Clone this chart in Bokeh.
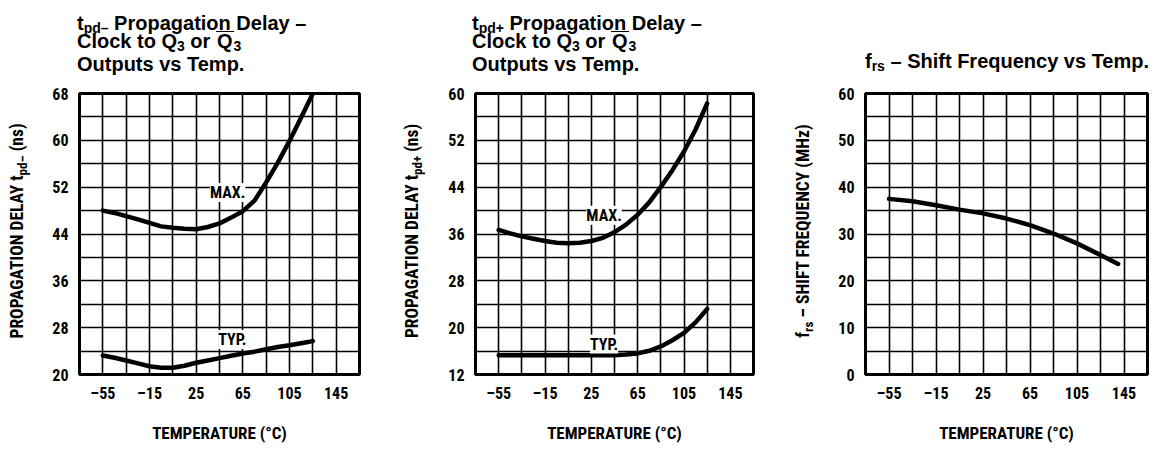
from bokeh.plotting import figure
from bokeh.models import Range1d, FixedTicker, Label, Div
from bokeh.layouts import row, column
from bokeh.embed import file_html
from bokeh.resources import INLINE

# ---------------- data ----------------
temp_ab = [-55, -45, -35, -25, -15, -5, 5, 15, 25, 35, 45, 55, 65, 75, 85, 95, 105, 115, 125]
tpd_minus_max = [48.0, 47.6, 47.05, 46.5, 45.9, 45.3, 45.05, 44.9, 44.8, 45.2, 45.8, 46.8, 47.9,
                 49.7, 52.8, 56.2, 59.9, 63.9, 68.0]
tpd_minus_typ = [23.25, 22.85, 22.4, 21.9, 21.4, 21.15, 21.15, 21.5, 22.0, 22.4, 22.8, 23.2, 23.6,
                 23.9, 24.3, 24.7, 25.0, 25.35, 25.7]
tpd_plus_max = [36.7, 36.1, 35.6, 35.2, 34.8, 34.5, 34.4, 34.5, 34.8, 35.35, 36.3, 37.6, 39.3,
                41.4, 44.05, 46.9, 50.1, 53.85, 58.3]
tpd_plus_typ = [15.3, 15.3, 15.3, 15.3, 15.3, 15.3, 15.3, 15.3, 15.3, 15.3, 15.3, 15.4, 15.6,
                16.05, 16.8, 17.85, 19.1, 20.9, 23.2]
temp_c = [-55, -35, -15, 5, 25, 45, 65, 85, 105, 125, 140]
shift_freq = [37.5, 37.0, 36.15, 35.2, 34.4, 33.3, 31.9, 30.1, 28.0, 25.5, 23.6]

x_ticks = [-55, -15, 25, 65, 105, 145]
x_tick_text = {-55: "\u201355", -15: "\u201315", 25: "25", 65: "65", 105: "105", 145: "145"}
x_grid = [-75, -55, -35, -15, 5, 25, 45, 65, 85, 105, 125, 145, 165]
y_ticks_a = [20, 28, 36, 44, 52, 60, 68]
y_grid_a = [20, 24, 28, 32, 36, 40, 44, 48, 52, 56, 60, 64, 68]
y_ticks_b = [12, 20, 28, 36, 44, 52, 60]
y_grid_b = [12, 16, 20, 24, 28, 32, 36, 40, 44, 48, 52, 56, 60]
y_ticks_c = [0, 10, 20, 30, 40, 50, 60]
y_grid_c = [0, 5, 10, 15, 20, 25, 30, 35, 40, 45, 50, 55, 60]

x_title = "TEMPERATURE (\u00b0C)"

COND = "Roboto Condensed"
TITLE_H = 78
FIG_H = 361


def sub(t, size=14, drop=3):
    return f'<span style="font-size:{size}px;vertical-align:-{drop}px">{t}</span>'


def title_div(width, left, lines):
    parts = "".join(
        f'<div style="position:absolute;left:{left}px;top:{top}px;white-space:nowrap">{h}</div>'
        for top, h in lines)
    html = (f'<div style="position:relative;width:{width}px;height:{TITLE_H}px;'
            f"font-family:'Liberation Sans',Arial,sans-serif;font-weight:bold;font-size:20px;"
            f'line-height:20px;color:#000">{parts}</div>')
    return Div(text=html, width=width, height=TITLE_H, margin=0, styles={"overflow": "visible"})


def ylab_div(width, cx, cy, inner):
    html = (f'<div style="position:relative;width:{width}px;height:{FIG_H}px">'
            f'<div style="position:absolute;left:{cx}px;top:{cy}px;'
            f'transform:translate(-50%,-50%) rotate(-90deg);white-space:nowrap;'
            f"font-family:'{COND}',sans-serif;font-weight:bold;font-size:17.5px;line-height:17px;"
            f'color:#000">{inner}</div></div>')
    return Div(text=html, width=width, height=FIG_H, margin=0, styles={"overflow": "visible"})


def make_fig(fw, bl, br, yr, yt, yg):
    p = figure(frame_width=fw, frame_height=281, min_border_left=bl, min_border_right=br,
               min_border_top=7, min_border_bottom=73,
               x_range=Range1d(-75, 165), y_range=Range1d(*yr),
               output_backend="svg", toolbar_location=None, tools="")
    p.background_fill_color = "white"
    p.border_fill_color = "white"
    p.outline_line_color = "black"
    p.outline_line_width = 3
    p.xaxis.ticker = FixedTicker(ticks=x_ticks)
    p.xaxis.major_label_overrides = x_tick_text
    p.yaxis.ticker = FixedTicker(ticks=yt)
    p.xgrid.ticker = FixedTicker(ticks=x_grid)
    p.ygrid.ticker = FixedTicker(ticks=yg)
    for g in (p.xgrid, p.ygrid):
        g.grid_line_color = "black"
        g.grid_line_width = 1.6
        g.grid_line_alpha = 1.0
    for ax in (p.xaxis, p.yaxis):
        ax.axis_line_color = None
        ax.major_tick_line_color = None
        ax.minor_tick_line_color = None
        ax.major_tick_out = 0
        ax.major_tick_in = 0
        ax.major_label_text_font = COND
        ax.major_label_text_font_size = "16px"
        ax.major_label_text_font_style = "bold"
        ax.major_label_text_color = "black"
    p.xaxis.major_label_standoff = 9
    p.yaxis.major_label_standoff = 11
    p.xaxis.axis_label = x_title
    p.xaxis.axis_label_text_font = COND
    p.xaxis.axis_label_text_font_size = "17px"
    p.xaxis.axis_label_text_font_style = "bold"
    p.xaxis.axis_label_text_color = "black"
    p.xaxis.axis_label_standoff = 17
    return p


def curve_label(p, text, x, y):
    p.add_layout(Label(x=x, y=y, text=text, text_font=COND, text_font_size="16px",
                       text_font_style="bold", text_align="center", text_baseline="middle",
                       background_fill_color="white", text_color="black"))


LW = 4.5
line_kw = dict(line_width=LW, color="black", line_cap="round", line_join="round")
Q_BAR = ('<span style="display:inline-block;line-height:18px;border-top:1.5px solid #000;'
         'padding:0 1px">Q</span>')

# ---------------- panel 1 ----------------
p1 = make_fig(280, 41, 39, (20, 68), y_ticks_a, y_grid_a)
p1.line(temp_ab, tpd_minus_max, **line_kw)
p1.line(temp_ab, tpd_minus_typ, **line_kw)
curve_label(p1, "MAX.", 52, 51.1)
curve_label(p1, "TYP.", 56, 26.0)
t1 = title_div(390, 69, [
    (5, "t" + sub("pd\u2013") + " Propagation Delay \u2013"),
    (23, "Clock to Q" + sub("3") + " or " + Q_BAR + sub("3")),
    (46, "Outputs vs Temp."),
])
y1 = ylab_div(30, 11.5, 145, "PROPAGATION DELAY t" + sub("pd\u2013", 13, 4) + " (ns)")
col1 = column(t1, row(y1, p1))

# ---------------- panel 2 ----------------
p2 = make_fig(278, 47, 30, (12, 60), y_ticks_b, y_grid_b)
p2.line(temp_ab, tpd_plus_max, **line_kw)
p2.line(temp_ab, tpd_plus_typ, **line_kw)
curve_label(p2, "MAX.", 36, 39.2)
curve_label(p2, "TYP.", 36, 17.2)
t2 = title_div(385, 74, [
    (5, "t" + sub("pd+") + " Propagation Delay \u2013"),
    (23, "Clock to Q" + sub("3") + " or " + Q_BAR + sub("3")),
    (46, "Outputs vs Temp."),
])
y2 = ylab_div(30, 16.5, 145, "PROPAGATION DELAY t" + sub("pd+", 13, 4) + " (ns)")
col2 = column(t2, row(y2, p2))

# ---------------- panel 3 ----------------
p3 = make_fig(282, 42, 4, (0, 60), y_ticks_c, y_grid_c)
p3.line(temp_c, shift_freq, **line_kw)
t3 = title_div(368, 82, [
    (43, "f" + sub("rs") + " \u2013 Shift Frequency vs Temp."),
])
y3 = ylab_div(40, 23, 145, "f" + sub("rs", 13, 4) + " \u2013 SHIFT FREQUENCY (MHz)")
col3 = column(t3, row(y3, p3))

layout = row(col1, col2, col3, margin=(8, 0, 0, 8))
open("out.html", "w").write(file_html(layout, INLINE))
